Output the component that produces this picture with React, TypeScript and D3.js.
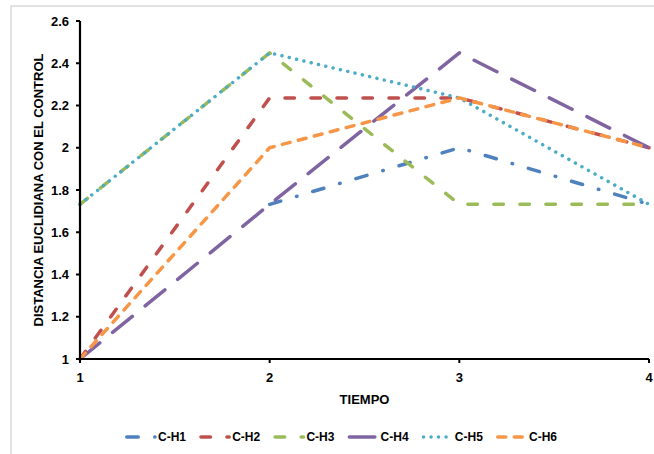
import React from "react";
import * as d3 from "d3";

const times = [1, 2, 3, 4];
const seriesNames = ["C-H1", "C-H2", "C-H3", "C-H4", "C-H5", "C-H6"];
const h1: (number | null)[] = [null, 1.732, 2, 1.732];
const h2: (number | null)[] = [1, 2.236, 2.236, 2];
const h3: (number | null)[] = [1.732, 2.449, 1.732, 1.732];
const h4: (number | null)[] = [1, 1.732, 2.449, 2];
const h5: (number | null)[] = [1.732, 2.449, 2.236, 1.732];
const h6: (number | null)[] = [1, 2, 2.236, 2];
const yTicks = [1, 1.2, 1.4, 1.6, 1.8, 2, 2.2, 2.4, 2.6];
const xTicks = [1, 2, 3, 4];

const seriesValues = [h1, h2, h3, h4, h5, h6];
const colors = ["#4F81BD", "#C0504D", "#9BBB59", "#8064A2", "#4BACC6", "#F79646"];
const dashes = ["11.5 16.5 0.5 16.5", "9.5 16.5", "9.5 16.5", "25.5 16.5", "0.01 7.5", "8 8.5"];

const W = 654;
const H = 454;
const font = "'Liberation Sans', Arial, sans-serif";

export default function App() {
  const x = d3.scaleLinear().domain([1, 4]).range([80, 649]);
  const y = d3.scaleLinear().domain([1, 2.6]).range([359, 21]);
  const line = d3
    .line<number | null>()
    .defined((d) => d !== null)
    .x((_, i) => x(times[i]))
    .y((d) => y(d as number));
  const sw = 3.5;

  return (
    <svg
      width={W}
      height={H}
      style={{ position: "absolute", left: 0, top: 0, background: "#fff" }}
    >
      <rect x={0} y={0} width={W} height={H} fill="#fff" />
      <rect x={11} y={6} width={W + 20} height={H + 20} fill="none" stroke="#d9d9d9" strokeWidth={1.5} />

      {seriesValues.map((vals, k) => (
        <path
          key={k}
          d={line(vals) || ""}
          fill="none"
          stroke={colors[k]}
          strokeWidth={sw}
          strokeDasharray={dashes[k]}
          strokeLinecap="round"
          strokeLinejoin="round"
        />
      ))}

      {/* axes */}
      <line x1={x(1)} x2={x(1)} y1={y(2.6)} y2={y(1)} stroke="#000" strokeWidth={2.2} />
      <line x1={x(1)} x2={x(4)} y1={y(1)} y2={y(1)} stroke="#000" strokeWidth={2.2} />
      {yTicks.map((t) => (
        <g key={t}>
          <line x1={x(1) - 4} x2={x(1)} y1={y(t)} y2={y(t)} stroke="#000" strokeWidth={2} />
          <text
            x={x(1) - 11}
            y={y(t)}
            textAnchor="end"
            dominantBaseline="central"
            fontFamily={font}
            fontWeight="bold"
            fontSize={13}
            fill="#000"
          >
            {String(t)}
          </text>
        </g>
      ))}
      {xTicks.map((t) => (
        <g key={t}>
          <line x1={x(t)} x2={x(t)} y1={y(1)} y2={y(1) + 4} stroke="#000" strokeWidth={2} />
          <text
            x={x(t)}
            y={y(1) + 18}
            textAnchor="middle"
            dominantBaseline="central"
            fontFamily={font}
            fontWeight="bold"
            fontSize={13}
            fill="#000"
          >
            {String(t)}
          </text>
        </g>
      ))}
      <text
        x={(x(1) + x(4)) / 2}
        y={399}
        textAnchor="middle"
        dominantBaseline="central"
        fontFamily={font}
        fontWeight="bold"
        fontSize={13}
        fill="#000"
      >
        TIEMPO
      </text>
      <text
        transform={`translate(38, ${(y(1) + y(2.6)) / 2}) rotate(-90)`}
        textAnchor="middle"
        dominantBaseline="central"
        fontFamily={font}
        fontWeight="bold"
        fontSize={13}
        fill="#000"
      >
        DISTANCIA EUCLIDIANA CON EL CONTROL
      </text>

      {/* legend */}
      {seriesNames.map((name, k) => {
        const sx = 125 + k * 74.2;
        return (
          <g key={name}>
            <line
              x1={sx + 1.75}
              x2={sx + 30}
              y1={437}
              y2={437}
              stroke={colors[k]}
              strokeWidth={sw}
              strokeDasharray={dashes[k]}
              strokeLinecap="round"
            />
            <text
              x={sx + 33}
              y={437}
              dominantBaseline="central"
              fontFamily={font}
              fontWeight="bold"
              fontSize={12}
              fill="#000"
            >
              {name}
            </text>
          </g>
        );
      })}
    </svg>
  );
}
